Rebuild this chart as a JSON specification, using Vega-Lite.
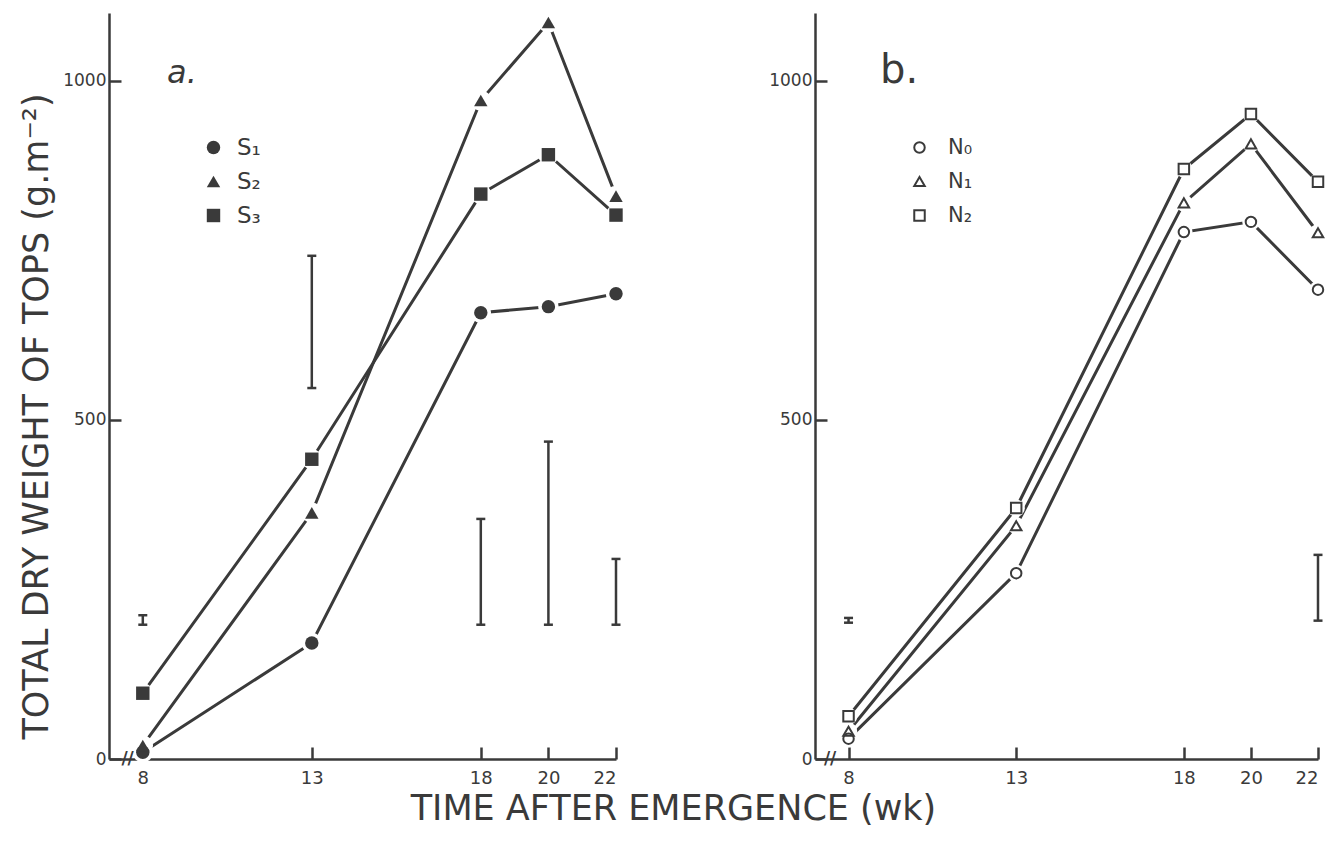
{
  "$schema": "https://vega.github.io/schema/vega-lite/v6.json",
  "background": "white",
  "padding": {"left": 19, "top": 12, "right": 5, "bottom": 5},
  "config": {
    "view": {"stroke": null},
    "font": "DejaVu Sans",
    "axis": {
      "grid": false,
      "zindex": 1,
      "domainColor": "#3a3a3a",
      "domainWidth": 2.5,
      "tickColor": "#3a3a3a",
      "tickWidth": 2.5,
      "tickSize": -12,
      "labelColor": "#3a3a3a",
      "labelFont": "DejaVu Sans",
      "titleColor": "#3a3a3a",
      "titleFont": "DejaVu Sans",
      "titleFontWeight": "normal"
    },
    "legend": {"orient": "none"}
  },
  "datasets": {
    "sa": [
      {"week": 8, "series": "S₁", "weight": 10},
      {"week": 13, "series": "S₁", "weight": 171},
      {"week": 18, "series": "S₁", "weight": 658},
      {"week": 20, "series": "S₁", "weight": 667},
      {"week": 22, "series": "S₁", "weight": 686},
      {"week": 8, "series": "S₂", "weight": 20},
      {"week": 13, "series": "S₂", "weight": 363},
      {"week": 18, "series": "S₂", "weight": 971},
      {"week": 20, "series": "S₂", "weight": 1086},
      {"week": 22, "series": "S₂", "weight": 830},
      {"week": 8, "series": "S₃", "weight": 97},
      {"week": 13, "series": "S₃", "weight": 442},
      {"week": 18, "series": "S₃", "weight": 833},
      {"week": 20, "series": "S₃", "weight": 891},
      {"week": 22, "series": "S₃", "weight": 802}
    ],
    "nb": [
      {"week": 8, "series": "N₀", "weight": 30},
      {"week": 13, "series": "N₀", "weight": 274},
      {"week": 18, "series": "N₀", "weight": 777},
      {"week": 20, "series": "N₀", "weight": 792},
      {"week": 22, "series": "N₀", "weight": 692},
      {"week": 8, "series": "N₁", "weight": 41},
      {"week": 13, "series": "N₁", "weight": 344},
      {"week": 18, "series": "N₁", "weight": 820},
      {"week": 20, "series": "N₁", "weight": 907},
      {"week": 22, "series": "N₁", "weight": 776},
      {"week": 8, "series": "N₂", "weight": 63},
      {"week": 13, "series": "N₂", "weight": 370},
      {"week": 18, "series": "N₂", "weight": 870},
      {"week": 20, "series": "N₂", "weight": 951},
      {"week": 22, "series": "N₂", "weight": 851}
    ],
    "ea": [
      {"week": 8, "lo": 198, "hi": 212},
      {"week": 13, "lo": 547, "hi": 742},
      {"week": 18, "lo": 198, "hi": 354},
      {"week": 20, "lo": 198, "hi": 468},
      {"week": 22, "lo": 198, "hi": 295}
    ],
    "eb": [
      {"week": 8, "lo": 201, "hi": 208},
      {"week": 22, "lo": 204, "hi": 301}
    ],
    "breaka": [{"week": 7.55, "weight": 0, "label": "//"}],
    "breakb": [{"week": 7.45, "weight": 0, "label": "//"}],
    "panela": [{"week": 9.16, "weight": 997, "label": "a."}],
    "panelb": [{"week": 9.51, "weight": 997, "label": "b."}]
  },
  "title": {
    "text": "TIME AFTER EMERGENCE (wk)",
    "orient": "bottom",
    "anchor": "middle",
    "font": "DejaVu Sans",
    "fontSize": 35,
    "fontWeight": "normal",
    "color": "#3a3a3a",
    "offset": 5
  },
  "spacing": 141,
  "resolve": {
    "scale": {"x": "independent", "y": "independent", "shape": "independent"},
    "legend": {"shape": "independent"}
  },
  "hconcat": [
    {
      "width": 507,
      "height": 746,
      "encoding": {
        "x": {
          "field": "week", "type": "quantitative",
          "scale": {"domain": [7, 22], "nice": false, "zero": false},
          "axis": {"values": [8, 13, 18, 20, 22], "title": null, "labelFontSize": 18, "labelPadding": 22}
        }
      },
      "layer": [
        {
          "data": {"name": "ea"},
          "mark": {"type": "rule", "color": "#3a3a3a", "strokeWidth": 2.5},
          "encoding": {
            "y": {
              "field": "lo", "type": "quantitative",
              "scale": {"domain": [0, 1100], "nice": false},
              "axis": {
                "values": [0, 500, 1000],
                "format": "d",
                "labelFontSize": 17,
                "labelPadding": 15,
                "title": "TOTAL DRY WEIGHT OF TOPS (g.m⁻²)",
                "titleFontSize": 35,
                "titlePadding": 8,
                "titleY": 403
              }
            },
            "y2": {"field": "hi"}
          }
        },
        {
          "data": {"name": "ea"},
          "mark": {"type": "tick", "orient": "horizontal", "color": "#3a3a3a", "size": 9, "thickness": 2.5, "opacity": 1},
          "encoding": {"y": {"field": "lo", "type": "quantitative"}}
        },
        {
          "data": {"name": "ea"},
          "mark": {"type": "tick", "orient": "horizontal", "color": "#3a3a3a", "size": 9, "thickness": 2.5, "opacity": 1},
          "encoding": {"y": {"field": "hi", "type": "quantitative"}}
        },
        {
          "data": {"name": "sa"},
          "mark": {"type": "line", "color": "#3a3a3a", "strokeWidth": 3},
          "encoding": {
            "y": {"field": "weight", "type": "quantitative"},
            "detail": {"field": "series", "type": "nominal"}
          }
        },
        {
          "data": {"name": "sa"},
          "mark": {"type": "point", "shape": "circle", "filled": true, "color": "white", "opacity": 1, "size": 420},
          "encoding": {"y": {"field": "weight", "type": "quantitative"}}
        },
        {
          "data": {"name": "sa"},
          "mark": {"type": "point", "filled": true, "color": "#3a3a3a", "opacity": 1, "size": 180},
          "encoding": {
            "y": {"field": "weight", "type": "quantitative"},
            "shape": {
              "field": "series", "type": "nominal",
              "scale": {"domain": ["S₁", "S₂", "S₃"], "range": ["circle", "triangle-up", "square"]},
              "legend": {
                "title": null,
                "orient": "none",
                "legendX": 93,
                "legendY": 123,
                "padding": 0,
                "symbolSize": 180,
                "symbolFillColor": "#3a3a3a",
                "symbolStrokeColor": "#3a3a3a",
                "labelFontSize": 23,
                "labelColor": "#3a3a3a",
                "labelOffset": 12,
                "rowPadding": 10
              }
            }
          }
        },
        {
          "data": {"name": "breaka"},
          "mark": {"type": "text", "fontSize": 17, "color": "#3a3a3a", "baseline": "middle", "align": "center", "fontWeight": "bold"},
          "encoding": {
            "y": {"field": "weight", "type": "quantitative"},
            "text": {"field": "label", "type": "nominal"}
          }
        },
        {
          "data": {"name": "panela"},
          "mark": {"type": "text", "fontSize": 32, "fontStyle": "italic", "color": "#3a3a3a", "baseline": "alphabetic", "align": "center"},
          "encoding": {
            "y": {"field": "weight", "type": "quantitative"},
            "text": {"field": "label", "type": "nominal"}
          }
        }
      ]
    },
    {
      "width": 503,
      "height": 746,
      "encoding": {
        "x": {
          "field": "week", "type": "quantitative",
          "scale": {"domain": [7, 22], "nice": false, "zero": false},
          "axis": {"values": [8, 13, 18, 20, 22], "title": null, "labelFontSize": 18, "labelPadding": 22}
        }
      },
      "layer": [
        {
          "data": {"name": "eb"},
          "mark": {"type": "rule", "color": "#3a3a3a", "strokeWidth": 2.5},
          "encoding": {
            "y": {
              "field": "lo", "type": "quantitative",
              "scale": {"domain": [0, 1100], "nice": false},
              "axis": {"values": [0, 500, 1000], "format": "d", "labelFontSize": 17, "labelPadding": 15, "title": null}
            },
            "y2": {"field": "hi"}
          }
        },
        {
          "data": {"name": "eb"},
          "mark": {"type": "tick", "orient": "horizontal", "color": "#3a3a3a", "size": 9, "thickness": 2.5, "opacity": 1},
          "encoding": {"y": {"field": "lo", "type": "quantitative"}}
        },
        {
          "data": {"name": "eb"},
          "mark": {"type": "tick", "orient": "horizontal", "color": "#3a3a3a", "size": 9, "thickness": 2.5, "opacity": 1},
          "encoding": {"y": {"field": "hi", "type": "quantitative"}}
        },
        {
          "data": {"name": "nb"},
          "mark": {"type": "line", "color": "#3a3a3a", "strokeWidth": 3},
          "encoding": {
            "y": {"field": "weight", "type": "quantitative"},
            "detail": {"field": "series", "type": "nominal"}
          }
        },
        {
          "data": {"name": "nb"},
          "mark": {"type": "point", "shape": "circle", "filled": true, "color": "white", "opacity": 1, "size": 300},
          "encoding": {"y": {"field": "weight", "type": "quantitative"}}
        },
        {
          "data": {"name": "nb"},
          "mark": {"type": "point", "filled": false, "color": "#3a3a3a", "opacity": 1, "size": 110, "strokeWidth": 2},
          "encoding": {
            "y": {"field": "weight", "type": "quantitative"},
            "shape": {
              "field": "series", "type": "nominal",
              "scale": {"domain": ["N₀", "N₁", "N₂"], "range": ["circle", "triangle-up", "square"]},
              "legend": {
                "title": null,
                "orient": "none",
                "legendX": 94,
                "legendY": 124,
                "padding": 0,
                "symbolSize": 110,
                "symbolStrokeWidth": 2,
                "symbolStrokeColor": "#3a3a3a",
                "labelFontSize": 21,
                "labelColor": "#3a3a3a",
                "labelOffset": 18,
                "rowPadding": 12
              }
            }
          }
        },
        {
          "data": {"name": "breakb"},
          "mark": {"type": "text", "fontSize": 17, "color": "#3a3a3a", "baseline": "middle", "align": "center", "fontWeight": "bold"},
          "encoding": {
            "y": {"field": "weight", "type": "quantitative"},
            "text": {"field": "label", "type": "nominal"}
          }
        },
        {
          "data": {"name": "panelb"},
          "mark": {"type": "text", "fontSize": 40, "color": "#3a3a3a", "baseline": "alphabetic", "align": "center"},
          "encoding": {
            "y": {"field": "weight", "type": "quantitative"},
            "text": {"field": "label", "type": "nominal"}
          }
        }
      ]
    }
  ]
}
